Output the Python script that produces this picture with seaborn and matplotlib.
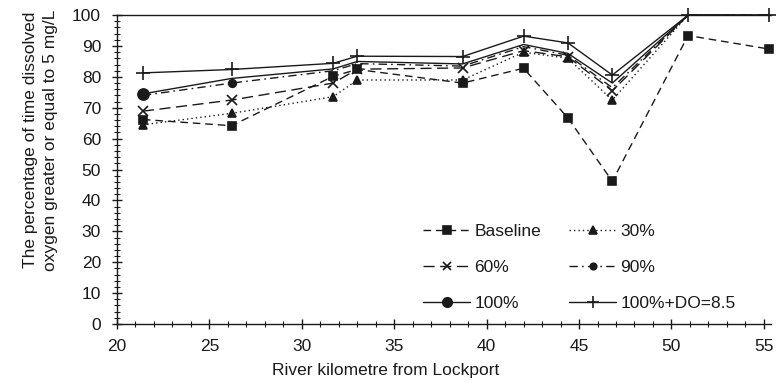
import numpy as np
import pandas as pd
import seaborn as sns
from matplotlib import pyplot as plt
from matplotlib.ticker import MultipleLocator

# river kilometre of each station
km = [21.4, 26.2, 31.7, 33.0, 38.7, 42.0, 44.4, 46.8, 50.9, 55.3]

baseline = [66.2, 64.2, 80.2, 82.4, 78.0, 82.8, 66.7, 46.2, 93.4, 89.0]
pct30 = [64.5, 68.2, 73.6, 79.0, 79.0, 88.0, 86.0, 72.5, 100, 100]
pct60 = [68.9, 72.5, 78.0, 82.5, 82.9, 88.5, 86.5, 75.5, 100, 100]
pct90 = [74.0, 78.0, 82.0, 84.3, 83.5, 89.8, 87.0, 76.5, 100, 100]
pct100 = [74.5, 79.5, 82.6, 85.0, 84.2, 90.5, 87.6, 78.0, 100, 100]
pct100_do = [81.3, 82.4, 84.4, 86.7, 86.6, 93.2, 91.0, 80.6, 100, 100]

labels = ["Baseline", "30%", "60%", "90%", "100%", "100%+DO=8.5"]

sns.set_style("ticks")
plt.rcParams['font.family'] = ['Liberation Sans', 'DejaVu Sans']
plt.rcParams['font.size'] = 12.5

ink = '#1a1a1a'
fig = plt.figure(figsize=(7.77, 3.88), dpi=100)
ax = fig.add_axes([0.1506, 0.165, 0.842, 0.796])

# (series, label, dashes, marker, marker size, markevery)
styles = [
    (baseline, labels[0], (5.5, 3.5), 's', 6, None),
    (pct30, labels[1], (1, 2.2), '^', 6, list(range(8))),
    (pct60, labels[2], (8, 4), 'x', 6.5, list(range(8))),
    (pct90, labels[3], (6, 3, 1.2, 3), 'o', 5.5, [0, 1]),
    (pct100, labels[4], (None, None), 'o', 8, [0]),
    (pct100_do, labels[5], (None, None), '+', 9.5, None),
]

for vals, lab, dash, mk, ms, every in styles:
    df = pd.DataFrame({'km': km, 'pct': vals})
    kw = dict(color=ink, lw=1.0, marker=mk, markersize=ms, markeredgecolor=ink,
              markerfacecolor=ink, markeredgewidth=1.2, label=lab, markevery=every,
              clip_on=False)
    line = sns.lineplot(data=df, x='km', y='pct', ax=ax, **kw).lines[-1]
    if dash[0] is not None:
        line.set_dashes(dash)

ax.set_xlim(20, 55.4)
ax.set_ylim(0, 100)
ax.xaxis.set_major_locator(MultipleLocator(5))
ax.xaxis.set_minor_locator(MultipleLocator(1))
ax.yaxis.set_major_locator(MultipleLocator(10))
ax.yaxis.set_minor_locator(MultipleLocator(2))
ax.tick_params(which='major', direction='inout', length=7, width=1, colors=ink,
               labelsize=12.5)
ax.tick_params(axis='x', which='major', pad=7.5)
ax.tick_params(axis='y', which='major', pad=8)
ax.tick_params(which='minor', direction='inout', length=4, width=0.8, colors=ink)
for s in ['left', 'bottom', 'top']:
    ax.spines[s].set_color(ink)
    ax.spines[s].set_linewidth(1.0)
ax.spines['right'].set_visible(False)

ax.set_xlabel('River kilometre from Lockport', color=ink, fontsize=12.5)
ax.set_ylabel('The percentage of time dissolved\noxygen greater or equal to 5 mg/L',
              color=ink, fontsize=12.5, linespacing=1.4)
ax.xaxis.set_label_coords(0.41, -0.125)
ax.yaxis.set_label_coords(-0.09, 0.595)

handles, labs = ax.get_legend_handles_labels()
order = [0, 2, 4, 1, 3, 5]
leg = ax.legend([handles[i] for i in order], [labs[i] for i in order], ncol=2,
                frameon=False, loc='upper left', bbox_to_anchor=(0.455, 0.352),
                borderpad=0, handlelength=2.7, handletextpad=0.25, markerscale=0.85,
                labelspacing=1.2, columnspacing=1.6, fontsize=12.5)
for t in leg.get_texts():
    t.set_color(ink)

fig.savefig('out.png', dpi=100)
